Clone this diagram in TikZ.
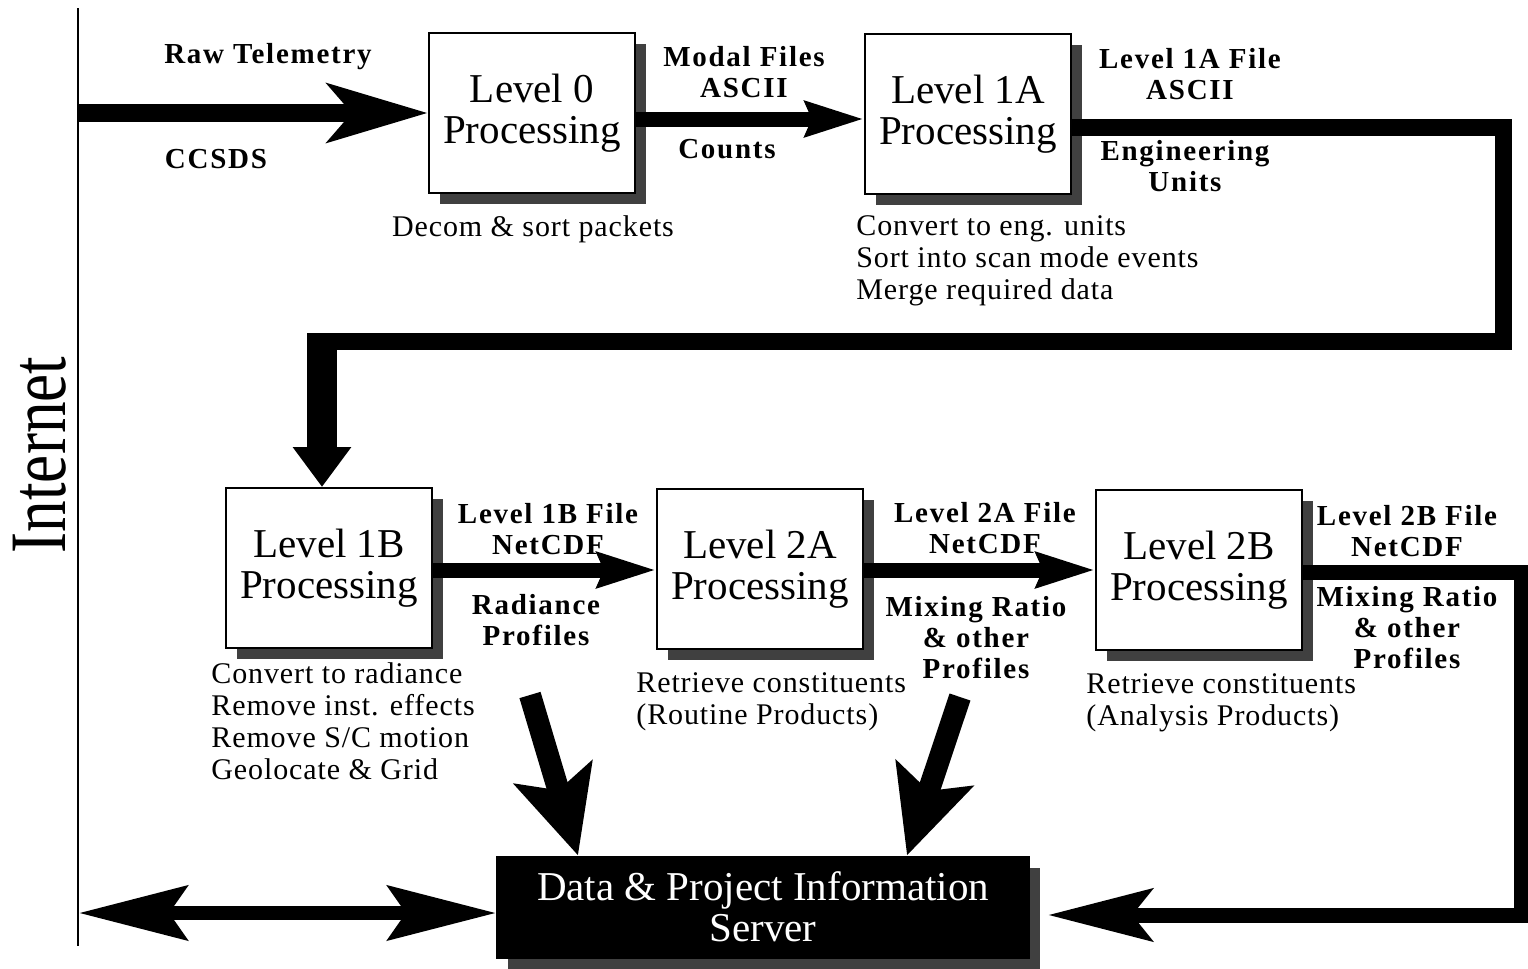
\documentclass[tikz,border=0pt]{standalone}
\usepackage{fontspec}
\setmainfont{Liberation Serif}
\newfontfamily\lblfont[LetterSpace=6]{Liberation Serif}
\newfontfamily\descfont[LetterSpace=3]{Liberation Serif}
\usetikzlibrary{arrows.meta,shadows}
\begin{document}
\begin{tikzpicture}[x=0.5pt,y=-0.5pt,
  procbox/.style={draw, line width=1pt, fill=white, minimum width=103pt, minimum height=80pt,
    inner sep=0pt, align=center, font=\fontsize{20.5}{20.5}\selectfont,
    drop shadow={shadow xshift=5.5pt, shadow yshift=-5.5pt, fill=black!75, opacity=1}},
  srvbox/.style={draw, line width=1pt, fill=black, text=white, minimum width=266pt, minimum height=50.5pt,
    inner sep=0pt, align=center, font=\fontsize{20.5}{20.5}\selectfont,
    drop shadow={shadow xshift=5.5pt, shadow yshift=-5.5pt, fill=black!75, opacity=1}},
  lbl/.style={font={\lblfont\bfseries\fontsize{14.5}{15.5}\selectfont}, align=center, inner sep=0pt},
  desc/.style={font={\descfont\fontsize{15}{16}\selectfont}, align=left, inner sep=0pt, anchor=west},
  descc/.style={font={\descfont\fontsize{15}{16}\selectfont}, inner sep=0pt},
  fatA/.style={line width=9pt, -{Stealth[length=50pt,width=29pt,inset=12pt]}},
  fatB/.style={line width=7.5pt, -{Stealth[length=29pt,width=17pt,inset=3pt]}},
  fatDown/.style={line width=15pt, -{Stealth[length=20pt,width=28pt,inset=0pt]}},
  loopline/.style={line width=8.5pt, line join=miter},
  loopR/.style={line width=7.5pt, line join=miter, -{Stealth[length=52pt,width=26pt,inset=10pt]}},
  fatD/.style={line width=11pt, -{Stealth[length=43pt,width=40pt,inset=9pt]}},
  dbl/.style={line width=7pt, {Stealth[length=54pt,width=27pt,inset=9pt]}-{Stealth[length=54pt,width=27pt,inset=9pt]}}
]
\useasboundingbox (0,0) rectangle (1528,969);

% Internet line and label
\coordinate (netTop) at (78,8);
\coordinate (netBot) at (78,946);
\draw[line width=1pt] (netTop) -- (netBot);
\node[rotate=90, inner sep=0pt, font=\fontsize{40}{40}\selectfont] (inet) at (40,455) {\scalebox{0.79}[1]{Internet}};

% Processing boxes
\node[procbox] (L0)  at (532,113) {Level 0\\Processing};
\node[procbox] (L1A) at (968,114) {Level 1A\\Processing};
\node[procbox] (L1B) at (329,568) {Level 1B\\Processing};
\node[procbox] (L2A) at (760,569) {Level 2A\\Processing};
\node[procbox] (L2B) at (1199,570) {Level 2B\\Processing};
\node[srvbox]  (Srv) at (763,907) {Data \& Project Information\\Server};

% Labels
\node[lbl] (rawt) at (268,57) {Raw Telemetry};
\node[lbl] (ccsds) at (216,159) {CCSDS};
\node[lbl] (modal) at (744,72) {Modal Files\\ASCII};
\node[lbl] (counts) at (727,149) {Counts};
\node[descc] (decom) at (533,229) {Decom \& sort packets};
\node[lbl] (l1af) at (1190,74) {Level 1A File\\ASCII};
\node[lbl] (engu) at (1185,166) {Engineering\\Units};
\node[desc] (d1a) at (856,261) {Convert to eng. units\\Sort into scan mode events\\Merge required data};
\node[lbl] (l1bf) at (548,529) {Level 1B File\\NetCDF};
\node[lbl] (radp) at (536,620) {Radiance\\Profiles};
\node[desc] (d1b) at (211,721) {Convert to radiance\\Remove inst. effects\\Remove S/C motion\\Geolocate \& Grid};
\node[desc] (d2a) at (636,702) {Retrieve constituents\\(Routine Products)};
\node[lbl] (l2af) at (985,528) {Level 2A File\\NetCDF};
\node[lbl] (mix1) at (976,638) {Mixing Ratio\\\& other\\Profiles};
\node[lbl] (l2bf) at (1407,531) {Level 2B File\\NetCDF};
\node[lbl] (mix2) at (1407,628) {Mixing Ratio\\\& other\\Profiles};
\node[desc] (d2b) at (1086,703) {Retrieve constituents\\(Analysis Products)};

% Connectors
\coordinate (in0) at (78,113);
\draw[fatA] (in0) -- (L0.west);
\draw[fatB] ([yshift=-3pt]L0.east) -- ([yshift=-2.5pt]L1A.west);

\coordinate (c1) at (1503,341);
\coordinate (c2) at (307,341);
\coordinate (c3) at (322,333);
\draw[loopline] ([yshift=-6.5pt]L1A.east) -| (c1) -- (c2);
\draw[fatDown] (c3) -- (c3 |- L1B.north);

\draw[fatB] ([yshift=-1pt]L1B.east) -- ([yshift=-0.5pt]L2A.west);
\draw[fatB] ([yshift=-0.5pt]L2A.east) -- ([yshift=0pt]L2B.west);

\coordinate (r2) at (1521,915);
\draw[loopR] ([yshift=-1pt]L2B.east) -| (r2) -- ([shift={(9pt,-4pt)}]Srv.east);

\coordinate (dg1) at (530,695);
\coordinate (dg2) at (960,697);
\draw[fatD] (dg1) -- ([xshift=-92.5pt]Srv.north);
\draw[fatD] (dg2) -- ([xshift=72pt]Srv.north);

\coordinate (in1) at (79,913);
\draw[dbl] (in1) -- ([yshift=-3pt]Srv.west);
\end{tikzpicture}
\end{document}
